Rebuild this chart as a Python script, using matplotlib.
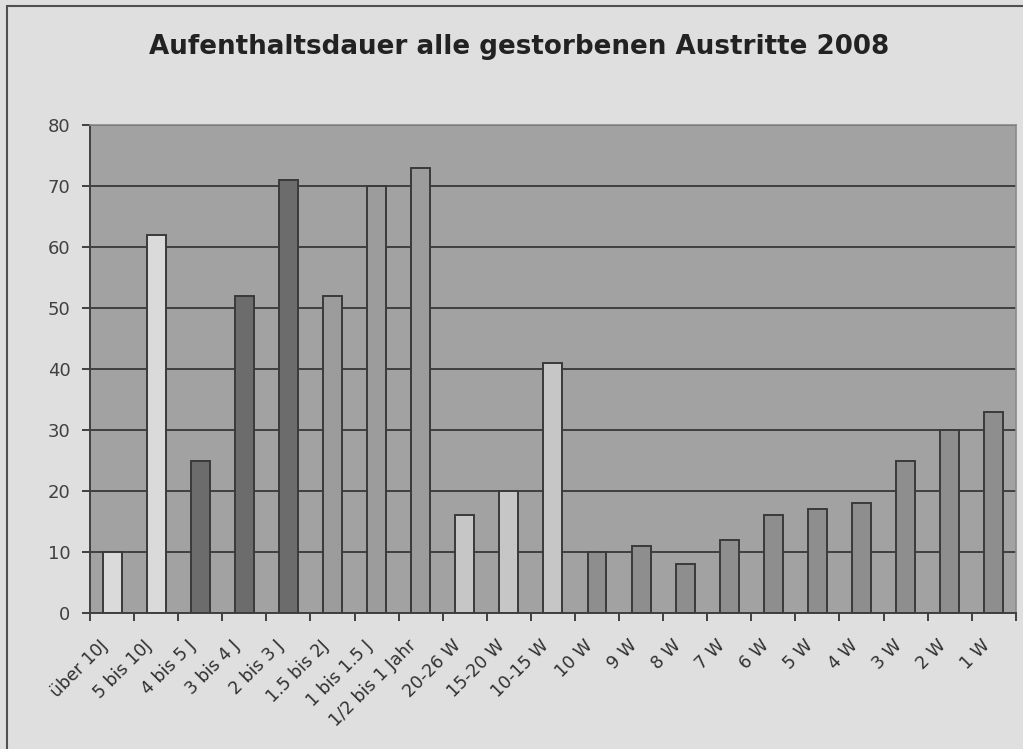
import matplotlib.pyplot as plt
import numpy as np

plt.rcParams['font.family'] = ['DejaVu Sans']

kategorien = ["über 10J", "5 bis 10J", "4 bis 5 J", "3 bis 4 J", "2 bis 3 J",
              "1.5 bis 2J", "1 bis 1.5 J", "1/2 bis 1 Jahr", "20-26 W", "15-20 W",
              "10-15 W", "10 W", "9 W", "8 W", "7 W", "6 W", "5 W", "4 W",
              "3 W", "2 W", "1 W"]
anzahl = [10, 62, 25, 52, 71, 52, 70, 73, 16, 20, 41, 10, 11, 8, 12, 16, 17, 18, 25, 30, 33]
farben = ["#dadada", "#dadada", "#6c6c6c", "#6c6c6c", "#6c6c6c",
          "#9c9c9c", "#9c9c9c", "#9c9c9c", "#c6c6c6", "#c6c6c6",
          "#c6c6c6", "#8e8e8e", "#8e8e8e", "#8e8e8e", "#8e8e8e", "#8e8e8e",
          "#8e8e8e", "#8e8e8e", "#8e8e8e", "#8e8e8e", "#8e8e8e"]

fig = plt.figure(figsize=(10.23, 7.49), dpi=100)
fig.patch.set_facecolor("#dfdfdf")

# Rahmen um das Diagramm
rahmen = plt.Rectangle((0.007, -0.01), 1.1, 1.002, transform=fig.transFigure,
                       fill=False, edgecolor="#505050", linewidth=1.5)
fig.patches.append(rahmen)

ax = fig.add_axes([0.088, 0.1816, 0.905, 0.6514])
ax.set_facecolor("#a2a2a2")

x = np.arange(len(kategorien))
ax.bar(x, anzahl, width=0.43, color=farben, edgecolor="#3a3a3a", linewidth=1.4, zorder=3)

ax.set_ylim(0, 80)
ax.set_xlim(-0.5, len(kategorien) - 0.5)
ax.set_yticks(range(0, 81, 10))
ax.yaxis.grid(True, color="#404040", linewidth=1.4, zorder=1)
ax.set_axisbelow(True)

# Beschriftungen etwas links von der Kategoriemitte, wie im Original
ax.set_xticks(x - 0.3)
ax.set_xticklabels(kategorien, rotation=45, ha="right", va="top",
                   rotation_mode="anchor", fontsize=12.5, color="#303030")
ax.set_xticks(np.arange(-0.5, len(kategorien)), minor=True)
ax.tick_params(axis="x", which="major", length=0, pad=17)
ax.tick_params(axis="x", which="minor", length=6, width=1.4, color="#404040")
ax.tick_params(axis="y", length=6, width=1.4, color="#404040", labelsize=13,
               labelcolor="#404040", pad=8)

for s in ["left", "bottom"]:
    ax.spines[s].set_color("#404040")
    ax.spines[s].set_linewidth(1.4)
for s in ["top", "right"]:
    ax.spines[s].set_color("#8a8a8a")
    ax.spines[s].set_linewidth(1.2)

fig.text(0.507, 0.937, "Aufenthaltsdauer alle gestorbenen Austritte 2008",
         ha="center", va="center", fontsize=18.8, fontweight="bold", color="#222222")

fig.savefig("out.png", dpi=100, facecolor=fig.get_facecolor())
